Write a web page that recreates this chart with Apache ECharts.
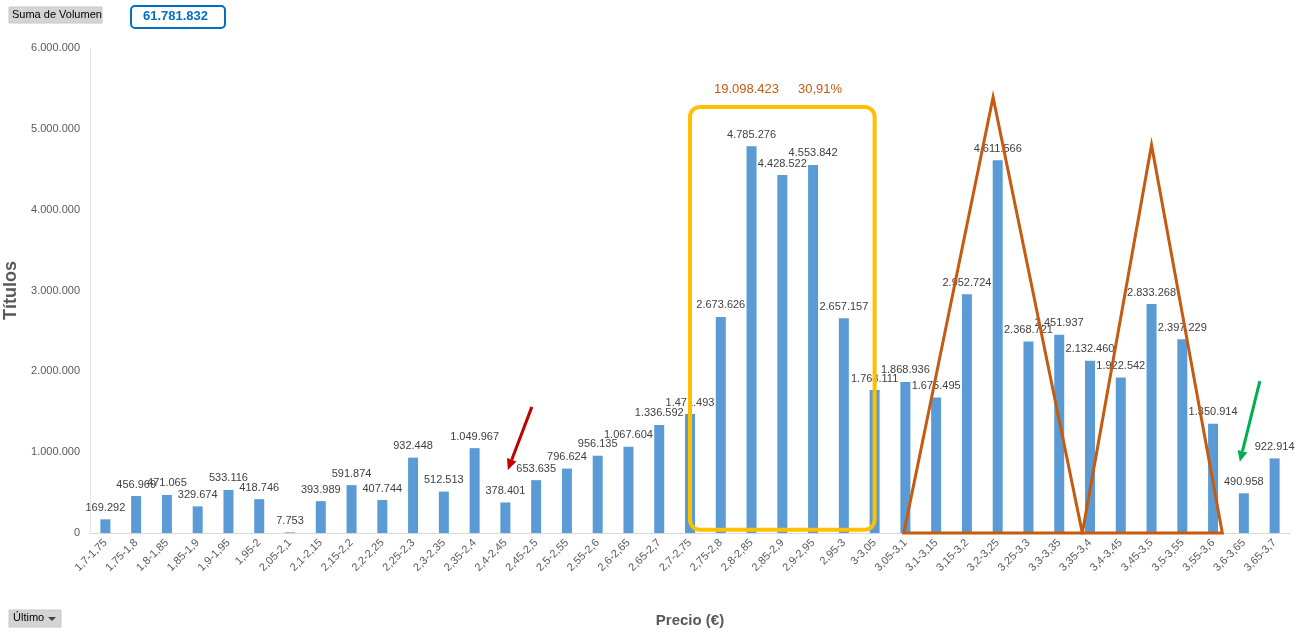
<!DOCTYPE html>
<html>
<head>
<meta charset="utf-8">
<script src="https://cdn.jsdelivr.net/npm/echarts@6/dist/echarts.min.js"></script>
<style>
  html, body { margin: 0; padding: 0; background: #fff; }
  #main { width: 1301px; height: 632px; }
</style>
</head>
<body>
<div id="main"></div>
<script>
var rangos = ['1,7-1,75', '1,75-1,8', '1,8-1,85', '1,85-1,9', '1,9-1,95', '1,95-2', '2,05-2,1',
  '2,1-2,15', '2,15-2,2', '2,2-2,25', '2,25-2,3', '2,3-2,35', '2,35-2,4', '2,4-2,45', '2,45-2,5',
  '2,5-2,55', '2,55-2,6', '2,6-2,65', '2,65-2,7', '2,7-2,75', '2,75-2,8', '2,8-2,85', '2,85-2,9',
  '2,9-2,95', '2,95-3', '3-3,05', '3,05-3,1', '3,1-3,15', '3,15-3,2', '3,2-3,25', '3,25-3,3',
  '3,3-3,35', '3,35-3,4', '3,4-3,45', '3,45-3,5', '3,5-3,55', '3,55-3,6', '3,6-3,65', '3,65-3,7'];
var volumen = [169292, 456969, 471065, 329674, 533116, 418746, 7753, 393989, 591874, 407744,
  932448, 512513, 1049967, 378401, 653635, 796624, 956135, 1067604, 1336592, 1471493,
  2673626, 4785276, 4428522, 4553842, 2657157, 1768111, 1868936, 1675495, 2952724, 4611566,
  2368721, 2451937, 2132460, 1922542, 2833268, 2397229, 1350914, 490958, 922914];
var yTicks = [0, 1000000, 2000000, 3000000, 4000000, 5000000, 6000000];
var totalVolumen = '61.781.832';
var zonaTexto = ['19.098.423', '30,91%'];

function miles(v) {
  return String(v).replace(/\B(?=(\d{3})+(?!\d))/g, '.');
}

var FONT = 'Liberation Sans';
var myChart = echarts.init(document.getElementById('main'));
var option = {
  animation: false,
  textStyle: { fontFamily: FONT },
  grid: { left: 90, right: 11, top: 48, bottom: 99, outerBoundsMode: 'none', containLabel: false },
  xAxis: {
    type: 'category',
    data: rangos,
    name: 'Precio (€)',
    nameLocation: 'middle',
    nameGap: 80,
    nameTextStyle: { fontSize: 15, fontWeight: 'bold', color: '#595959' },
    axisLine: { lineStyle: { color: '#d9d9d9' } },
    axisTick: { show: false },
    axisLabel: { rotate: 45, interval: 0, fontSize: 11, color: '#595959', margin: 8 }
  },
  yAxis: {
    type: 'value',
    min: yTicks[0],
    max: yTicks[yTicks.length - 1],
    interval: 1000000,
    name: 'Títulos',
    nameLocation: 'middle',
    nameGap: 60,
    nameTextStyle: { fontSize: 18, fontWeight: 'bold', color: '#595959' },
    axisLine: { show: true, lineStyle: { color: '#e6e6e6' } },
    axisTick: { show: false },
    splitLine: { show: false },
    axisLabel: { fontSize: 11, color: '#595959', margin: 10, formatter: miles }
  },
  series: [{
    type: 'bar',
    data: volumen,
    barWidth: 10,
    itemStyle: { color: '#5b9bd5' },
    label: {
      show: true,
      position: 'top',
      distance: 6,
      fontSize: 11,
      color: '#404040',
      formatter: function (p) { return miles(p.value); }
    }
  }]
};
myChart.setOption(option);

// el eje de categorias redondea el indice, asi que se interpola a mano
function px(i, v) {
  var k = Math.floor(i), f = i - k;
  var a = myChart.convertToPixel({ xAxisIndex: 0, yAxisIndex: 0 }, [k, v]);
  var b = myChart.convertToPixel({ xAxisIndex: 0, yAxisIndex: 0 }, [k + 1, v]);
  return [a[0] + (b[0] - a[0]) * f, a[1]];
}

function flecha(a, b, color) {
  var dx = b[0] - a[0], dy = b[1] - a[1];
  var len = Math.sqrt(dx * dx + dy * dy);
  var ux = dx / len, uy = dy / len;
  var hl = 11, hw = 5;
  var base = [b[0] - ux * hl, b[1] - uy * hl];
  return [{
    type: 'line', z: 100,
    shape: { x1: a[0], y1: a[1], x2: base[0], y2: base[1] },
    style: { stroke: color, lineWidth: 3 }
  }, {
    type: 'polygon', z: 100,
    shape: { points: [b, [base[0] - uy * hw, base[1] + ux * hw], [base[0] + uy * hw, base[1] - ux * hw]] },
    style: { fill: color }
  }];
}

var rA = px(19, 5270000), rB = px(25, 40000);
var t1 = [px(25.95, 0), px(28.85, 5390000), px(31.75, 0)];
var t2 = [px(31.75, 0), px(34.0, 4800000), px(36.3, 0)];

var graficos = [
  {
    type: 'rect', z: 100,
    shape: { x: rA[0], y: rA[1], width: rB[0] - rA[0], height: rB[1] - rA[1], r: 10 },
    style: { fill: 'none', stroke: '#ffc000', lineWidth: 4 }
  },
  {
    type: 'polygon', z: 100,
    shape: { points: t1 },
    style: { fill: 'none', stroke: '#c55a11', lineWidth: 3, lineJoin: 'miter' }
  },
  {
    type: 'polygon', z: 100,
    shape: { points: t2 },
    style: { fill: 'none', stroke: '#c55a11', lineWidth: 3, lineJoin: 'miter' }
  },
  {
    type: 'text', z: 100, left: 714, top: 83,
    style: { text: zonaTexto[0], fill: '#c55a11', font: '13px ' + FONT }
  },
  {
    type: 'text', z: 100, left: 798, top: 83,
    style: { text: zonaTexto[1], fill: '#c55a11', font: '13px ' + FONT }
  },
  // botones de la tabla dinamica
  {
    type: 'rect', shape: { x: 9, y: 7, width: 93, height: 16 },
    style: { fill: '#d4d4d4', stroke: '#c8c8c8' }
  },
  {
    type: 'text', left: 12, top: 9,
    style: { text: 'Suma de Volumen', fill: '#000', font: '11px ' + FONT }
  },
  {
    type: 'rect', shape: { x: 131, y: 6, width: 94, height: 22, r: 4 },
    style: { fill: '#fff', stroke: '#0070c0', lineWidth: 2 }
  },
  {
    type: 'text', left: 143, top: 10,
    style: { text: totalVolumen, fill: '#0070c0', font: 'bold 13px ' + FONT }
  },
  {
    type: 'rect', shape: { x: 9, y: 610, width: 52, height: 17 },
    style: { fill: '#d4d4d4', stroke: '#c8c8c8' }
  },
  {
    type: 'text', left: 13, top: 612,
    style: { text: 'Último', fill: '#000', font: '11px ' + FONT }
  },
  {
    type: 'polygon', shape: { points: [[48, 617], [56, 617], [52, 621]] },
    style: { fill: '#404040' }
  }
];
graficos = graficos.concat(flecha(px(13.86, 1560000), px(13.08, 780000), '#c00000'));
graficos = graficos.concat(flecha(px(37.52, 1880000), px(36.87, 880000), '#00b050'));

myChart.setOption({ graphic: graficos });
</script>
</body>
</html>
